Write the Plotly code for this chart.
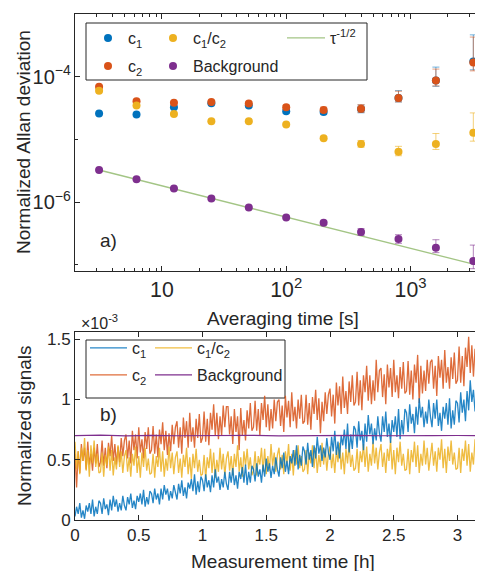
import math
import numpy as np
import plotly.graph_objects as go

# ---------------- data: Allan deviation (panel a) ----------------
tau = [3.125, 6.25, 12.5, 25, 50, 100, 200, 400, 800, 1600, 3200]
adev_c1 = [2.59e-5, 2.49e-5, 3.26e-5, 3.77e-5, 3.47e-5, 2.82e-5, 2.75e-5, 3.05e-5, 4.58e-5, 8.74e-5, 1.75e-4]
adev_c2 = [6.94e-5, 4.06e-5, 3.86e-5, 3.96e-5, 3.73e-5, 3.26e-5, 2.96e-5, 3.10e-5, 4.58e-5, 8.74e-5, 1.69e-4]
adev_ratio = [6.0e-5, 3.47e-5, 2.55e-5, 1.95e-5, 1.95e-5, 1.73e-5, 1.05e-5, 8.43e-6, 6.37e-6, 8.43e-6, 1.28e-5]
adev_bg = [3.26e-6, 2.32e-6, 1.65e-6, 1.14e-6, 8.2e-7, 5.71e-7, 4.70e-7, 3.34e-7, 2.59e-7, 1.88e-7, 1.15e-7]

err_c1_plus = [0.5e-6, 0.6e-6, 1.0e-6, 1.6e-6, 2.0e-6, 2.2e-6, 3.0e-6, 4.9e-6, 1.42e-5, 5.5e-5, 2.9e-4]
err_c1_minus = [0.5e-6, 0.6e-6, 1.0e-6, 1.5e-6, 1.9e-6, 2.0e-6, 2.6e-6, 3.9e-6, 6.2e-6, 1.7e-5, 4.6e-5]
err_c2_plus = [1.2e-6, 1.0e-6, 1.2e-6, 1.7e-6, 2.2e-6, 2.6e-6, 3.2e-6, 4.9e-6, 1.3e-5, 4.5e-5, 2.6e-4]
err_c2_minus = [1.2e-6, 1.0e-6, 1.2e-6, 1.6e-6, 2.0e-6, 2.3e-6, 2.8e-6, 3.9e-6, 6.0e-6, 1.6e-5, 4.5e-5]
err_ratio_plus = [1.5e-6, 0.9e-6, 0.7e-6, 0.6e-6, 0.7e-6, 0.8e-6, 0.6e-6, 1.2e-6, 1.4e-6, 4.0e-6, 1.37e-5]
err_ratio_minus = [1.4e-6, 0.8e-6, 0.6e-6, 0.5e-6, 0.6e-6, 0.7e-6, 0.5e-6, 0.9e-6, 0.87e-6, 1.5e-6, 3.4e-6]
err_bg_plus = [6e-8, 5e-8, 4e-8, 3.5e-8, 3e-8, 2.5e-8, 3e-8, 4.5e-8, 4.4e-8, 6.4e-8, 9.2e-8]
err_bg_minus = [6e-8, 5e-8, 4e-8, 3.5e-8, 3e-8, 2.5e-8, 2.8e-8, 3.8e-8, 3.8e-8, 3.1e-8, 2.8e-8]

tau_fit = [3.125, 3200]
fit_vals = [3.26e-6, 1.03e-7]

# ---------------- data: normalized signals (panel b), units of 1e-3 ----------------
t_hours = np.round(np.arange(0, 3.2001, 0.0125), 5)   # 257 samples
sig_c1 = [
    0.03, 0.11, 0.05, 0.14, 0.02, 0.08, 0.01, 0.12, 0.07, 0.14, 0.05, 0.17, 0.03, 0.11, 0.05, 0.16,
    0.14, 0.05, 0.18, 0.09, 0.13, 0.04, 0.17, 0.08, 0.20, 0.11, 0.17, 0.07, 0.14, 0.08, 0.20, 0.12,
    0.08, 0.19, 0.13, 0.22, 0.10, 0.16, 0.09, 0.20, 0.15, 0.22, 0.13, 0.25, 0.11, 0.19, 0.13, 0.24,
    0.22, 0.14, 0.26, 0.17, 0.22, 0.13, 0.26, 0.17, 0.29, 0.21, 0.26, 0.16, 0.24, 0.18, 0.29, 0.22,
    0.17, 0.30, 0.22, 0.33, 0.20, 0.27, 0.18, 0.31, 0.26, 0.34, 0.24, 0.38, 0.21, 0.32, 0.23, 0.36,
    0.33, 0.24, 0.38, 0.27, 0.33, 0.23, 0.37, 0.27, 0.42, 0.31, 0.36, 0.25, 0.34, 0.27, 0.40, 0.30,
    0.25, 0.40, 0.31, 0.43, 0.29, 0.37, 0.26, 0.40, 0.34, 0.44, 0.31, 0.46, 0.29, 0.40, 0.31, 0.45,
    0.42, 0.32, 0.47, 0.36, 0.42, 0.31, 0.46, 0.36, 0.51, 0.40, 0.47, 0.35, 0.45, 0.38, 0.52, 0.42,
    0.36, 0.52, 0.43, 0.56, 0.40, 0.49, 0.38, 0.53, 0.47, 0.58, 0.45, 0.62, 0.42, 0.54, 0.45, 0.61,
    0.57, 0.46, 0.64, 0.50, 0.58, 0.44, 0.62, 0.51, 0.69, 0.55, 0.62, 0.49, 0.60, 0.52, 0.68, 0.56,
    0.50, 0.69, 0.57, 0.74, 0.54, 0.65, 0.51, 0.70, 0.62, 0.75, 0.59, 0.80, 0.56, 0.71, 0.59, 0.78,
    0.75, 0.60, 0.82, 0.66, 0.74, 0.58, 0.80, 0.65, 0.87, 0.71, 0.80, 0.63, 0.76, 0.66, 0.86, 0.72,
    0.65, 0.86, 0.73, 0.90, 0.69, 0.80, 0.64, 0.83, 0.73, 0.86, 0.69, 0.92, 0.67, 0.83, 0.71, 0.92,
    0.89, 0.73, 0.96, 0.80, 0.88, 0.72, 0.94, 0.79, 1.01, 0.85, 0.94, 0.77, 0.90, 0.80, 1.00, 0.86,
    0.77, 0.97, 0.84, 1.00, 0.78, 0.89, 0.74, 0.94, 0.84, 0.97, 0.79, 1.01, 0.76, 0.91, 0.79, 0.99,
    0.97, 0.81, 1.06, 0.89, 1.00, 0.82, 1.07, 0.91, 1.16, 0.98, 1.08, 0.90, 1.06, 0.95, 1.18, 1.02,
    1.10]
sig_c2 = [
    0.55, 0.27, 0.57, 0.39, 0.63, 0.49, 0.60, 0.42, 0.65, 0.46, 0.55, 0.41, 0.60, 0.47, 0.63, 0.44,
    0.48, 0.66, 0.45, 0.60, 0.43, 0.64, 0.53, 0.70, 0.49, 0.63, 0.46, 0.61, 0.48, 0.68, 0.53, 0.66,
    0.71, 0.51, 0.66, 0.47, 0.74, 0.58, 0.71, 0.51, 0.77, 0.56, 0.67, 0.51, 0.73, 0.59, 0.77, 0.55,
    0.58, 0.78, 0.55, 0.71, 0.52, 0.75, 0.63, 0.81, 0.58, 0.74, 0.54, 0.72, 0.57, 0.79, 0.63, 0.77,
    0.82, 0.60, 0.77, 0.55, 0.85, 0.68, 0.82, 0.60, 0.89, 0.65, 0.77, 0.60, 0.84, 0.68, 0.88, 0.64,
    0.68, 0.90, 0.65, 0.84, 0.62, 0.89, 0.75, 0.96, 0.70, 0.89, 0.67, 0.86, 0.70, 0.95, 0.77, 0.94,
    0.94, 0.71, 0.86, 0.63, 0.92, 0.73, 0.86, 0.58, 0.93, 0.70, 0.83, 0.66, 0.91, 0.76, 0.97, 0.74,
    0.77, 0.99, 0.74, 0.92, 0.70, 0.97, 0.83, 1.03, 0.77, 0.96, 0.74, 0.92, 0.76, 1.00, 0.82, 0.98,
    1.00, 0.78, 0.95, 0.73, 1.03, 0.85, 0.99, 0.77, 1.06, 0.82, 0.94, 0.76, 1.00, 0.84, 1.04, 0.80,
    0.82, 1.04, 0.79, 0.97, 0.75, 1.02, 0.88, 1.08, 0.83, 1.01, 0.72, 0.98, 0.82, 1.06, 0.88, 1.04,
    1.09, 0.86, 1.04, 0.80, 1.14, 0.95, 1.11, 0.88, 1.19, 0.93, 1.07, 0.88, 1.15, 0.98, 1.20, 0.95,
    0.98, 1.23, 0.95, 1.16, 0.91, 1.20, 1.06, 1.28, 0.99, 1.20, 0.96, 1.16, 0.99, 1.33, 1.06, 1.24,
    1.26, 1.02, 1.21, 0.96, 1.29, 1.10, 1.26, 1.02, 1.33, 1.06, 1.20, 1.01, 1.27, 1.09, 1.31, 1.05,
    1.07, 1.32, 1.04, 1.24, 1.00, 1.29, 1.14, 1.37, 0.97, 1.28, 1.05, 1.24, 1.07, 1.33, 1.13, 1.31,
    1.33, 1.09, 1.28, 1.03, 1.36, 1.18, 1.33, 1.09, 1.41, 1.14, 1.27, 1.09, 1.35, 1.17, 1.39, 1.13,
    1.16, 1.44, 1.14, 1.36, 1.11, 1.43, 1.27, 1.52, 1.22, 1.45, 1.19, 1.42, 1.24, 1.55, 1.32, 1.50,
    1.30]
sig_ratio = [
    0.65, 0.42, 0.57, 0.38, 0.60, 0.49, 0.68, 0.41, 0.58, 0.36, 0.62, 0.47, 0.66, 0.44, 0.55, 0.39,
    0.40, 0.56, 0.36, 0.54, 0.45, 0.61, 0.41, 0.58, 0.37, 0.52, 0.42, 0.62, 0.44, 0.57, 0.39, 0.53,
    0.58, 0.40, 0.52, 0.36, 0.55, 0.45, 0.61, 0.39, 0.53, 0.35, 0.56, 0.44, 0.60, 0.41, 0.51, 0.38,
    0.39, 0.55, 0.35, 0.53, 0.44, 0.60, 0.40, 0.57, 0.36, 0.51, 0.41, 0.61, 0.43, 0.56, 0.38, 0.52,
    0.57, 0.39, 0.51, 0.35, 0.54, 0.44, 0.60, 0.38, 0.52, 0.34, 0.55, 0.43, 0.59, 0.40, 0.50, 0.37,
    0.38, 0.54, 0.34, 0.52, 0.43, 0.59, 0.39, 0.56, 0.35, 0.50, 0.40, 0.60, 0.42, 0.55, 0.37, 0.51,
    0.57, 0.41, 0.53, 0.37, 0.55, 0.44, 0.62, 0.40, 0.52, 0.36, 0.57, 0.45, 0.59, 0.42, 0.52, 0.37,
    0.41, 0.57, 0.37, 0.53, 0.46, 0.60, 0.40, 0.59, 0.38, 0.53, 0.41, 0.63, 0.45, 0.56, 0.40, 0.54,
    0.60, 0.42, 0.54, 0.38, 0.57, 0.47, 0.63, 0.41, 0.55, 0.37, 0.58, 0.46, 0.62, 0.43, 0.53, 0.40,
    0.42, 0.58, 0.38, 0.56, 0.47, 0.62, 0.43, 0.60, 0.39, 0.54, 0.44, 0.64, 0.46, 0.59, 0.41, 0.55,
    0.61, 0.43, 0.55, 0.39, 0.58, 0.48, 0.64, 0.42, 0.56, 0.38, 0.59, 0.47, 0.63, 0.44, 0.54, 0.41,
    0.43, 0.59, 0.39, 0.57, 0.48, 0.63, 0.44, 0.61, 0.40, 0.55, 0.45, 0.65, 0.47, 0.60, 0.42, 0.56,
    0.63, 0.44, 0.56, 0.39, 0.59, 0.49, 0.66, 0.42, 0.58, 0.38, 0.60, 0.48, 0.65, 0.45, 0.55, 0.41,
    0.42, 0.59, 0.38, 0.58, 0.48, 0.65, 0.44, 0.62, 0.39, 0.55, 0.45, 0.66, 0.46, 0.60, 0.41, 0.56,
    0.64, 0.45, 0.57, 0.40, 0.60, 0.50, 0.67, 0.43, 0.59, 0.39, 0.61, 0.49, 0.66, 0.46, 0.56, 0.42,
    0.43, 0.60, 0.39, 0.59, 0.49, 0.66, 0.45, 0.63, 0.40, 0.56, 0.46, 0.67, 0.47, 0.61, 0.42, 0.57,
    0.52]
t_bg = [0.0, 0.2, 0.4, 0.6, 0.8, 1.0, 1.2, 1.4, 1.6, 1.8, 2.0, 2.2, 2.4, 2.6, 2.8, 3.0, 3.2]
sig_bg = [0.700, 0.704, 0.698, 0.703, 0.699, 0.702, 0.700, 0.703, 0.698, 0.701, 0.700, 0.703, 0.699, 0.702, 0.700, 0.701, 0.700]

# ---------------- style ----------------
BLUE = "#0072BD"
ORANGE = "#D95319"
YELLOW = "#EDB120"
PURPLE = "#7E2F8E"
GREEN = "#A3C585"
INK = "#262626"
FONT = "Liberation Sans, Arial, Helvetica, sans-serif"

OFF = 8                      # page offset of the figure (body margin)
W, H = 483 - OFF, 571 - OFF  # figure size
ML, MR, MT, MB = 75 - OFF, 0, 14 - OFF, 51
PW, PH = W - ML - MR, H - MT - MB


def px(xp):   # page pixel -> paper x
    return (xp - OFF - ML) / PW


def py(yp):   # page pixel -> paper y
    return (H - MB - (yp - OFF)) / PH


fig = go.Figure()


def err_trace(y, ep, em, color, err_rgba, name, legend):
    return go.Scatter(
        x=tau, y=y, mode="markers", name=name, legend=legend,
        marker=dict(color=color, size=8),
        error_y=dict(type="data", symmetric=False, array=ep, arrayminus=em,
                     color=err_rgba, thickness=1, width=3.5),
        xaxis="x", yaxis="y",
    )


fig.add_trace(err_trace(adev_c1, err_c1_plus, err_c1_minus, BLUE, "rgba(0,114,189,0.55)", "c<sub>1</sub>", "legend"))
fig.add_trace(err_trace(adev_c2, err_c2_plus, err_c2_minus, ORANGE, "rgba(217,83,25,0.55)", "c<sub>2</sub>", "legend2"))
fig.add_trace(err_trace(adev_ratio, err_ratio_plus, err_ratio_minus, YELLOW, "rgba(237,177,32,0.6)", "c<sub>1</sub>/c<sub>2</sub>", "legend3"))
fig.add_trace(go.Scatter(x=tau_fit, y=fit_vals, mode="lines", name="τ<sup>-1/2</sup>", legend="legend5",
                         line=dict(color=GREEN, width=1.3), xaxis="x", yaxis="y"))
fig.add_trace(err_trace(adev_bg, err_bg_plus, err_bg_minus, PURPLE, "rgba(126,47,142,0.6)", "Background", "legend4"))

# panel b
fig.add_trace(go.Scatter(x=t_hours, y=sig_c2, mode="lines", name="c<sub>2</sub>", legend="legend7",
                         line=dict(color=ORANGE, width=1.3), opacity=0.85, xaxis="x2", yaxis="y2"))
fig.add_trace(go.Scatter(x=t_hours, y=sig_ratio, mode="lines", name="c<sub>1</sub>/c<sub>2</sub>", legend="legend8",
                         line=dict(color=YELLOW, width=1.3), opacity=0.85, xaxis="x2", yaxis="y2"))
fig.add_trace(go.Scatter(x=t_hours, y=sig_c1, mode="lines", name="c<sub>1</sub>", legend="legend6",
                         line=dict(color=BLUE, width=1.3), opacity=0.85, xaxis="x2", yaxis="y2"))
fig.add_trace(go.Scatter(x=t_bg, y=sig_bg, mode="lines", name="Background", legend="legend9",
                         line=dict(color=PURPLE, width=1.2), xaxis="x2", yaxis="y2"))

top_dom = [py(271), 1.0]
bot_dom = [0.0, py(332)]

axis_common = dict(showline=True, linecolor=INK, linewidth=1, ticks="inside", tickcolor=INK,
                   ticklen=5, showgrid=False, zeroline=False)
tf17 = dict(family=FONT, size=17, color=INK)
tf16 = dict(family=FONT, size=16, color=INK)


def leg(xp, yp, itemwidth=30):
    return dict(x=px(xp), y=py(yp), xref="paper", yref="paper",
                xanchor="left", yanchor="middle", bgcolor="rgba(0,0,0,0)", borderwidth=0,
                font=dict(family=FONT, size=16, color=INK), itemwidth=itemwidth,
                tracegroupgap=0)


fig.update_layout(
    width=W, height=H,
    margin=dict(l=ML, r=MR, t=MT, b=MB),
    paper_bgcolor="white", plot_bgcolor="white",
    font=dict(family=FONT, color=INK),
    showlegend=True,
    xaxis=dict(type="log", range=[math.log10(2), 3.583], dtick=1, exponentformat="power",
               showexponent="all", mirror="ticks", anchor="y", domain=[0, 1], tickfont=tf17,
               minor=dict(ticks="inside", ticklen=3, tickcolor=INK, showgrid=False),
               **axis_common),
    yaxis=dict(type="log", range=[math.log10(8e-8), -3], dtick=2, exponentformat="power",
               showexponent="all", anchor="x", domain=top_dom, tickfont=tf16,
               minor=dict(ticks="inside", ticklen=3, tickcolor=INK, showgrid=False),
               **axis_common),
    xaxis2=dict(range=[0, 3.2], dtick=0.5, mirror="ticks", anchor="y2", domain=[0, 1],
                tickfont=tf17, **axis_common),
    yaxis2=dict(range=[0, 1.56], dtick=0.5, anchor="x2", domain=bot_dom, tickfont=tf17,
                **axis_common),
    legend=leg(88, 38), legend2=leg(88, 66), legend3=leg(153, 38), legend4=leg(153, 66),
    legend5=leg(282, 38, 38),
    legend6=leg(85, 348, 37), legend7=leg(85, 375, 37), legend8=leg(150, 348, 37), legend9=leg(150, 375, 37),
)

# legend boxes
fig.add_shape(type="rect", xref="paper", yref="paper", x0=px(86), x1=px(367), y0=py(80), y1=py(23),
              line=dict(color=INK, width=1), fillcolor="white", layer="below")
fig.add_shape(type="rect", xref="paper", yref="paper", x0=px(86), x1=px(285), y0=py(398), y1=py(340),
              line=dict(color=INK, width=1), fillcolor="white", layer="below")

ann_font = dict(family=FONT, size=19, color=INK)
annotations = [
    dict(text="Normalized Allan deviation", x=px(23), y=py(142), textangle=-90),
    dict(text="Averaging time [s]", x=px(283), y=py(318)),
    dict(text="Normalized signals", x=px(24), y=py(426), textangle=-90),
    dict(text="Measurement time [h]", x=px(283), y=py(561)),
    dict(text="a)", x=px(108), y=py(241)),
    dict(text="b)", x=px(108), y=py(414)),
    dict(text="×10<sup>-3</sup>", x=px(99), y=py(322), font=dict(family=FONT, size=16, color=INK)),
]
for a in annotations:
    a.setdefault("font", ann_font)
    a.update(xref="paper", yref="paper", showarrow=False, xanchor="center", yanchor="middle")
fig.update_layout(annotations=annotations)

fig.write_html("out.html")
